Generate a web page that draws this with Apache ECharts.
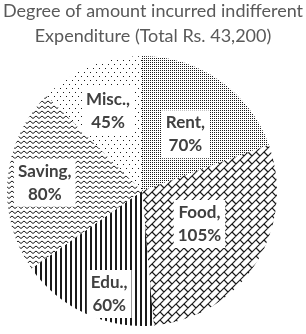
<!DOCTYPE html>
<html>
<head>
<meta charset="utf-8">
<script src="https://cdn.jsdelivr.net/npm/echarts@6/dist/echarts.min.js"></script>
<style>
  html, body { margin: 0; padding: 0; background: #fff; }
  #chart { width: 306px; height: 334px; }
</style>
</head>
<body>
<div id="chart"></div>
<script>
// degrees of the 360 spent on each head
const categories = ['Rent', 'Food', 'Edu.', 'Saving', 'Misc.'];
const degrees = [70, 105, 60, 80, 45];
const titleLines = ['Degree of amount incurred indifferent', 'Expenditure (Total Rs. 43,200)'];

// nudge the inside labels where the original puts them
const labelShift = [[3, 1], [-2, -5], [-3, 39], [-27, -2], [-7, -15]];

const ink = '#1a1a1a';

function tile(w, h, draw) {
  const c = document.createElement('canvas');
  c.width = w;
  c.height = h;
  const ctx = c.getContext('2d');
  ctx.fillStyle = '#fff';
  ctx.fillRect(0, 0, w, h);
  ctx.fillStyle = ink;
  ctx.strokeStyle = ink;
  draw(ctx);
  return { image: c, repeat: 'repeat' };
}

const patterns = [
  // Rent: dense dots
  tile(2, 2, ctx => ctx.fillRect(0, 0, 1, 1)),
  // Food: diagonal bricks
  tile(16, 16, ctx => {
    ctx.lineWidth = 1.2;
    ctx.beginPath();
    for (let c = -16; c <= 48; c += 8) {
      ctx.moveTo(c + 20, -20);
      ctx.lineTo(-20, c + 20);
    }
    for (let c = -16; c <= 32; c += 8) {
      for (let d = -48; d <= 64; d += 16) {
        const dd = d + (((c % 16) + 16) % 16);
        const x = (c + dd) / 2, y = (c - dd) / 2;
        ctx.moveTo(x, y);
        ctx.lineTo(x + 4, y + 4);
      }
    }
    ctx.stroke();
  }),
  // Edu: vertical lines
  tile(5, 1, ctx => ctx.fillRect(0, 0, 2, 1)),
  // Saving: waves
  tile(6, 5, ctx => {
    ctx.lineWidth = 1;
    ctx.beginPath();
    ctx.moveTo(0, 1);
    ctx.lineTo(3, 3.5);
    ctx.lineTo(6, 1);
    ctx.stroke();
  }),
  // Misc: sparse dots
  tile(6, 8, ctx => {
    ctx.fillRect(0, 0, 1, 1);
    ctx.fillRect(3, 4, 1, 1);
  })
];

const chart = echarts.init(document.getElementById('chart'), null, { renderer: 'canvas' });

chart.setOption({
  animation: false,
  title: {
    text: titleLines.join('\n'),
    left: 153,
    textAlign: 'center',
    top: -1,
    padding: 0,
    textStyle: {
      fontFamily: 'Lato',
      fontWeight: 'normal',
      fontSize: 18,
      lineHeight: 25,
      color: '#595959'
    }
  },
  series: [{
    type: 'pie',
    center: [142, 191],
    radius: 135,
    startAngle: 90,
    clockwise: true,
    silent: true,
    itemStyle: { borderWidth: 0 },
    label: {
      position: 'inside',
      formatter: '{b},\n{c}%',
      fontFamily: 'Lato',
      fontWeight: 'bold',
      fontSize: 17,
      lineHeight: 23,
      color: '#404040',
      backgroundColor: '#fff',
      padding: [1, 4]
    },
    labelLayout: params => ({
      dx: labelShift[params.dataIndex][0],
      dy: labelShift[params.dataIndex][1]
    }),
    data: categories.map((name, i) => ({
      name: name,
      value: degrees[i],
      itemStyle: { color: patterns[i] }
    }))
  }]
});
</script>
</body>
</html>
